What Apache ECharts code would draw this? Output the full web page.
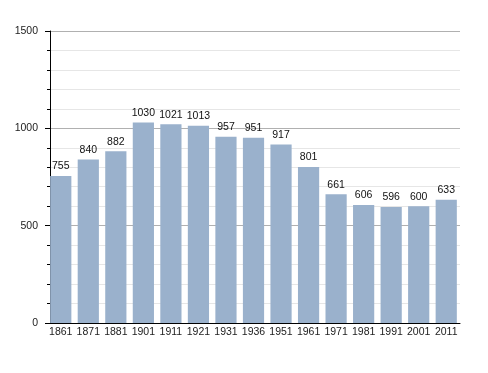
<!DOCTYPE html>
<html><head><meta charset="utf-8">
<script src="https://cdn.jsdelivr.net/npm/echarts@6/dist/echarts.min.js"></script>
<style>html,body{margin:0;padding:0;background:#fff}#c{width:488px;height:373px}</style>
</head><body><div id="c"></div>
<script>
const years = ['1861','1871','1881','1901','1911','1921','1931','1936','1951','1961','1971','1981','1991','2001','2011'];
const population = [755,840,882,1030,1021,1013,957,951,917,801,661,606,596,600,633];
const yTicks = [0,500,1000,1500];

const chart = echarts.init(document.getElementById('c'), null, {renderer:'canvas'});
chart.setOption({
  animation:false,
  textStyle:{fontFamily:'Liberation Sans, Arial, sans-serif'},
  grid:{left:47,right:28,top:31,bottom:50},
  xAxis:{type:'category',data:years,
    axisLine:{lineStyle:{color:'#000',width:1}},
    axisTick:{show:false},
    axisLabel:{color:'#222',fontSize:10.5,margin:4,interval:0}},
  yAxis:{type:'value',min:yTicks[0],max:yTicks[yTicks.length-1],interval:500,offset:-3,
    axisLine:{show:true,lineStyle:{color:'#000',width:1}},
    axisTick:{show:true,length:5,lineStyle:{color:'#000'}},
    minorTick:{show:true,splitNumber:5,length:3,lineStyle:{color:'#000'}},
    splitLine:{lineStyle:{color:'#b0b0b0',width:1}},
    minorSplitLine:{show:true,lineStyle:{color:'#e6e6e6',width:1}},
    axisLabel:{color:'#222',fontSize:10.5,margin:12,formatter:v=>String(v)}},
  series:[{type:'bar',data:population,barCategoryGap:'23%',
    itemStyle:{color:'#9ab1cc'},
    label:{show:true,position:'top',color:'#111',fontSize:10.5,distance:4}}]
});
</script></body></html>
